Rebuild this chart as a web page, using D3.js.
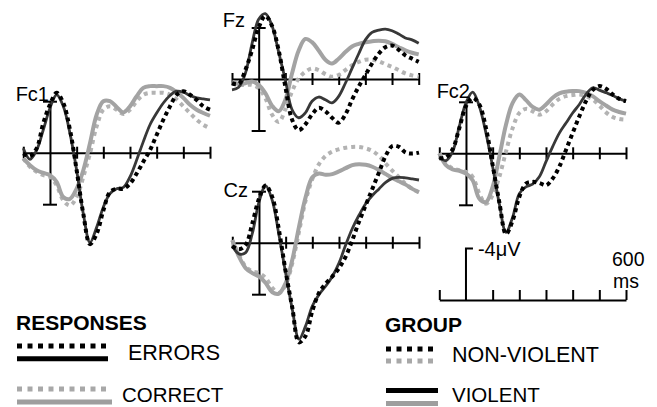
<!DOCTYPE html>
<html>
<head>
<meta charset="utf-8">
<script src="https://cdn.jsdelivr.net/npm/d3@7"></script>
<style>
  body { margin: 0; background: #fff; }
  text { font-family: "Liberation Sans", Arial, sans-serif; fill: #000; }
</style>
</head>
<body>
<div id="chart"></div>
<script>
// Time points (ms) shared by all waveforms
const times = [-100, -75, -50, -25, 0, 25, 50, 75, 100, 125, 150, 175, 200, 225, 250, 275,
  300, 325, 350, 375, 400, 425, 450, 475, 500, 525, 550, 575, 600];

// Amplitudes in microvolts (negative plotted up)
const fc1ErrViolent = [-0.34, 0.52, -0.2, -1.78, -3.47, -4.5, -3.6, -1.5, 1.36, 4.75, 6.97, 5.8, 4.23, 3.18, 2.8, 2.7, 1.88, 0.57, -0.86, -2.17, -3.08, -3.86, -4.44, -4.78, -4.7, -4.44, -4.26, -4.18, -4.1];
const fc1ErrNonViolent = [0.05, 0.26, -0.34, -2.3, -3.73, -4.65, -3.86, -1.78, 1.36, 4.75, 7.1, 6.3, 4.5, 3.05, 2.8, 2.8, 2.4, 1.62, 0.7, -0.2, -1.38, -2.56, -3.6, -4.5, -4.78, -4.5, -4.1, -3.6, -3.34];
const fc1CorViolent = [0.44, 0.97, 1.36, 1.57, 1.75, 2.27, 3.45, 3.58, 2.79, 1.36, -0.73, -2.95, -4.0, -4.0, -3.55, -3.13, -3.6, -4.39, -5.04, -5.17, -5.17, -5.17, -5.04, -4.7, -4.26, -3.73, -3.34, -3.08, -2.87];
const fc1CorNonViolent = [0.44, 1.1, 1.49, 1.75, 1.88, 2.53, 3.7, 4.1, 3.45, 1.88, 0.05, -2.04, -3.34, -3.6, -3.34, -3.0, -3.34, -4.0, -4.5, -4.65, -4.65, -4.65, -4.5, -4.13, -3.6, -3.08, -2.56, -2.17, -1.9];

const fzErrViolent = [0.84, 0.64, -0.43, -2.73, -4.64, -5.08, -4.13, -2.09, 0.08, 2.37, 3.01, 2.63, 1.73, 1.4, 1.61, 1.86, 1.35, 0.33, -0.82, -1.96, -3.04, -3.62, -3.8, -3.88, -3.75, -3.49, -3.19, -3.04, -2.78];
const fzErrNonViolent = [0.33, 0.38, -0.69, -2.22, -4.0, -4.9, -4.13, -2.22, 0.59, 3.14, 3.98, 3.52, 2.76, 2.24, 2.5, 3.01, 3.39, 2.76, 1.61, 0.59, -0.31, -1.2, -1.96, -2.47, -2.6, -2.27, -1.84, -1.58, -1.33];
const fzCorViolent = [0.2, 0.38, 0.33, 0.2, 0.46, 1.1, 2.07, 2.5, 1.61, -0.43, -2.22, -3.11, -2.86, -2.22, -1.5, -1.2, -1.58, -2.09, -2.53, -2.73, -2.86, -2.93, -2.98, -2.93, -2.73, -2.47, -2.22, -2.04, -1.91];
const fzCorNonViolent = [0.33, 0.46, 0.46, 0.46, 0.71, 1.48, 2.76, 3.34, 2.37, 0.97, -0.05, -0.56, -0.82, -0.69, -0.38, -0.18, -0.31, -0.69, -1.07, -1.33, -1.5, -1.5, -1.38, -1.15, -0.94, -0.69, -0.43, -0.28, -0.18];

const czErrViolent = [0.26, 0.87, 0.77, -0.72, -3.15, -4.44, -3.28, -0.59, 2.36, 5.18, 7.49, 6.46, 4.92, 4.03, 3.38, 2.62, 1.59, 0.18, -1.1, -2.13, -3.03, -3.67, -4.18, -4.69, -5.0, -5.08, -5.03, -4.95, -4.87];
const czErrNonViolent = [0.26, 0.51, 0.18, -1.49, -3.41, -4.44, -3.54, -0.97, 2.23, 5.05, 7.74, 7.23, 5.31, 3.9, 3.18, 2.62, 1.97, 1.08, -0.2, -1.62, -2.9, -4.18, -5.46, -6.74, -7.51, -7.44, -7.0, -6.92, -7.0];
const czCorViolent = [-0.2, 1.08, 1.97, 2.36, 2.62, 3.13, 3.85, 3.95, 3.13, 1.33, -1.23, -3.54, -5.08, -5.38, -5.28, -5.33, -5.54, -5.79, -6.03, -6.1, -6.05, -5.9, -5.64, -5.33, -5.03, -4.77, -4.51, -4.18, -3.92];
const czCorNonViolent = [-0.2, 0.95, 1.85, 2.23, 2.36, 2.74, 3.51, 3.9, 3.26, 1.59, -0.85, -3.28, -4.95, -6.1, -6.74, -7.08, -7.26, -7.38, -7.44, -7.44, -7.33, -7.13, -6.74, -6.15, -5.59, -5.08, -4.56, -4.18, -3.92];

const fc2ErrViolent = [0.31, 0.57, -0.13, -2.09, -3.92, -4.75, -3.66, -1.57, 1.04, 3.92, 6.14, 4.96, 3.13, 2.61, 2.4, 1.83, 0.65, -0.52, -1.57, -2.35, -3.13, -3.79, -4.57, -5.09, -4.91, -4.7, -4.49, -4.23, -4.05];
const fc2ErrNonViolent = [0.39, 0.31, -0.31, -1.96, -3.66, -4.31, -3.79, -1.96, 0.91, 3.79, 6.27, 5.22, 3.39, 2.35, 2.22, 2.3, 2.48, 1.96, 1.04, -0.26, -1.57, -2.87, -4.05, -4.91, -5.22, -5.01, -4.57, -4.23, -4.05];
const fc2CorViolent = [0, 0.91, 1.25, 1.36, 1.57, 2.09, 3.52, 3.79, 2.61, 0.26, -2.22, -3.92, -4.57, -4.13, -3.6, -3.39, -3.79, -4.31, -4.65, -4.78, -4.83, -4.83, -4.7, -4.44, -4.05, -3.71, -3.39, -3.21, -3.08];
const fc2CorNonViolent = [0, 0.78, 1.17, 1.31, 1.44, 1.83, 3.13, 3.92, 3.26, 1.83, -0.13, -1.96, -3.13, -3.45, -3.26, -3.0, -3.26, -3.79, -4.23, -4.44, -4.52, -4.57, -4.44, -4.18, -3.71, -3.18, -2.82, -2.66, -2.61];

// Axis ticks
const timeTicks = [-100, 100, 200, 300, 400, 500, 600];
const voltTicks = [-4, 4];

// Electrode panels: where each one sits on the page
const panels = [
  { name: "Fc1", x0: 23.3, y0: 152.7, lx: 49, ly: 101,
    series: [fc1CorNonViolent, fc1CorViolent, fc1ErrViolent, fc1ErrNonViolent] },
  { name: "Fz", x0: 232, y0: 79, lx: 245, ly: 27,
    series: [fzCorNonViolent, fzCorViolent, fzErrViolent, fzErrNonViolent] },
  { name: "Cz", x0: 232.3, y0: 242.7, lx: 248, ly: 197,
    series: [czCorNonViolent, czCorViolent, czErrViolent, czErrNonViolent] },
  { name: "Fc2", x0: 439.3, y0: 153.3, lx: 470, ly: 98,
    series: [fc2CorNonViolent, fc2CorViolent, fc2ErrViolent, fc2ErrNonViolent] }
];

// line styles, same order as panel series
const styles = [
  { stroke: "#b3b3b3", width: 4, dash: "4,4" },   // correct, non-violent
  { stroke: "#a3a3a3", width: 4, dash: null },    // correct, violent
  { stroke: "#383838", width: 2.8, dash: null },  // errors, violent
  { stroke: "#000", width: 4, dash: "4,3.5" }     // errors, non-violent
];

const W = 657, H = 407;
const svg = d3.select("#chart").append("svg")
  .attr("width", W)
  .attr("height", H);

const x = d3.scaleLinear().domain([-100, 600]).range([0, 186.7]);
const y = d3.scaleLinear().domain([-4, 4]).range([-51.5, 51.5]); // negative up

const line = d3.line()
  .x((d, i) => x(times[i]))
  .y(d => y(d))
  .curve(d3.curveCatmullRom.alpha(0.5));

function drawAxes(g, crossTicks) {
  const ax = g.append("g")
    .call(d3.axisBottom(x).tickValues(timeTicks).tickSize(6).tickSizeOuter(0).tickFormat(""));
  ax.select(".domain").attr("stroke", "#000").attr("stroke-width", 2);
  ax.selectAll(".tick line")
    .attr("stroke", "#000").attr("stroke-width", 2)
    .attr("y1", crossTicks ? -6 : -10).attr("y2", crossTicks ? 6 : 0);
  return ax;
}

panels.forEach(p => {
  const g = svg.append("g").attr("transform", `translate(${p.x0},${p.y0})`);

  // vertical axis at t = 0
  const vg = g.append("g").attr("transform", `translate(${x(0)},0)`)
    .call(d3.axisLeft(y).tickValues(voltTicks).tickSize(7).tickSizeOuter(0).tickFormat(""));
  vg.select(".domain").attr("stroke", "#000").attr("stroke-width", 2);
  vg.selectAll(".tick line").attr("stroke", "#000").attr("stroke-width", 2)
    .attr("x1", -7).attr("x2", 7);

  drawAxes(g, true);

  p.series.forEach((s, i) => {
    g.append("path")
      .datum(s)
      .attr("d", line)
      .attr("fill", "none")
      .attr("stroke", styles[i].stroke)
      .attr("stroke-width", styles[i].width)
      .attr("stroke-dasharray", styles[i].dash);
  });

  svg.append("text")
    .attr("x", p.lx).attr("y", p.ly)
    .attr("text-anchor", "end")
    .style("font-size", "20px")
    .text(p.name);
});

// Scale bar
const sb = svg.append("g").attr("transform", "translate(439.3,300)");
drawAxes(sb, false);
sb.append("path")
  .attr("d", `M${x(0)},0V${y(-4)}H${x(0) + 7}`)
  .attr("fill", "none").attr("stroke", "#000").attr("stroke-width", 2);
sb.append("text").attr("x", x(0) + 12).attr("y", -44).style("font-size", "20px").text("-4μV");
sb.append("text").attr("x", x(600) - 14).attr("y", -34).style("font-size", "19.5px").text("600");
sb.append("text").attr("x", x(600) - 13).attr("y", -12).style("font-size", "19.5px").text("ms");

// Legends
const legendResponses = ["ERRORS", "CORRECT"];
const legendGroups = ["NON-VIOLENT", "VIOLENT"];

svg.append("text").attr("x", 16).attr("y", 330)
  .style("font-size", "21px").style("font-weight", "bold").text("RESPONSES");
svg.append("text").attr("x", 385).attr("y", 332)
  .style("font-size", "21px").style("font-weight", "bold").text("GROUP");

function legendLine(x1, x2, yy, color, dash) {
  svg.append("line")
    .attr("x1", x1).attr("x2", x2).attr("y1", yy).attr("y2", yy)
    .attr("stroke", color).attr("stroke-width", 5)
    .attr("stroke-dasharray", dash);
}

// Errors: black dotted + black solid; Correct: gray dotted + gray solid
legendLine(17, 109, 346, "#000", "5,5.5");
legendLine(17, 108, 358.7, "#000", null);
svg.append("text").attr("x", 128).attr("y", 360).style("font-size", "21.5px").text(legendResponses[0]);
legendLine(17, 111, 389, "#a8a8a8", "5,5.5");
legendLine(17, 112, 402, "#9e9e9e", null);
svg.append("text").attr("x", 122).attr("y", 401.5).style("font-size", "20.5px").text(legendResponses[1]);

// Non-violent: dotted black + dotted gray; Violent: solid black + solid gray
legendLine(386, 434, 349, "#000", "5,5.5");
legendLine(386, 434, 361, "#a8a8a8", "5,5.5");
svg.append("text").attr("x", 452).attr("y", 362).style("font-size", "21.5px").text(legendGroups[0]);
legendLine(386, 438, 390.5, "#000", null);
legendLine(386, 438, 403.5, "#9e9e9e", null);
svg.append("text").attr("x", 452).attr("y", 401.5).style("font-size", "20.5px").text(legendGroups[1]);
</script>
</body>
</html>
